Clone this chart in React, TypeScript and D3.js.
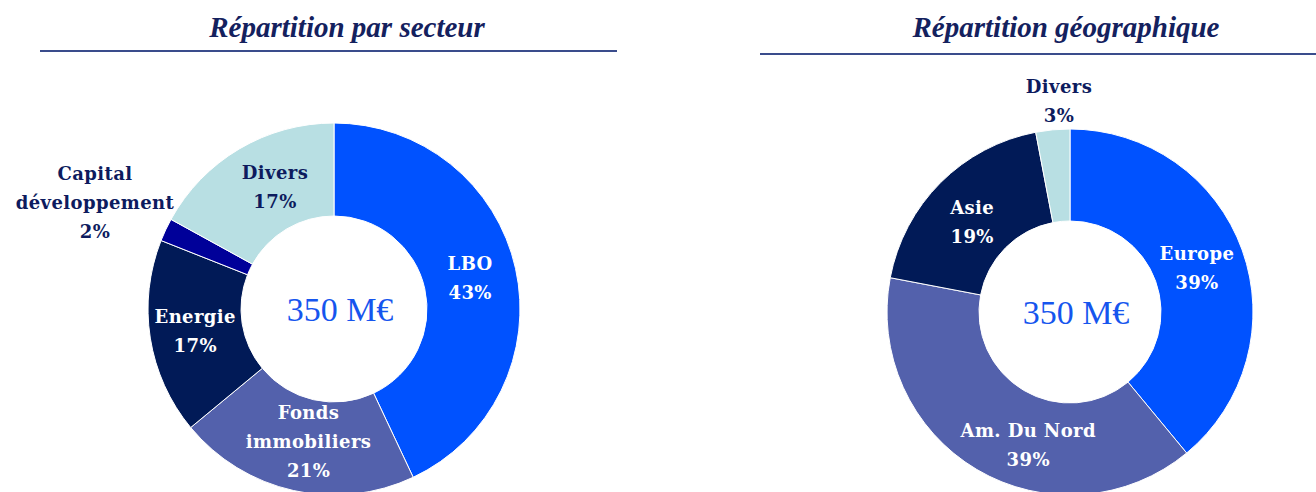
import React from "react";
import * as d3 from "d3";

const sectorCategories = ["LBO", "Fonds immobiliers", "Energie", "Capital développement", "Divers"];
const sectorValues = [43, 21, 17, 2, 17];
const sectorLabelLines = [["LBO", "43%"], ["Fonds", "immobiliers", "21%"], ["Energie", "17%"], ["Capital", "développement", "2%"], ["Divers", "17%"]];

const geoCategories = ["Europe", "Am. Du Nord", "Asie", "Divers"];
const geoValues = [39, 39, 19, 3];
const geoLabelLines = [["Europe", "39%"], ["Am. Du Nord", "39%"], ["Asie", "19%"], ["Divers", "3%"]];

const totalLabel = "350 M€";
const titles = ["Répartition par secteur", "Répartition géographique"];

const sectorColors = ["#0052FF", "#5361AC", "#011A57", "#000099", "#B8DFE3"];
const geoColors = ["#0052FF", "#5361AC", "#011A57", "#B8DFE3"];

type LabelStyle = { dx: number; dy: number; fill: string; outside?: boolean };

const sectorLabelStyle: LabelStyle[] = [
  { dx: 0, dy: 0, fill: "#fff" },
  { dx: 5, dy: -3, fill: "#fff" },
  { dx: -1, dy: 0, fill: "#fff" },
  { dx: 0, dy: 0, fill: "#0D1B5E", outside: true },
  { dx: 12, dy: -2, fill: "#0D1B5E" },
];
const geoLabelStyle: LabelStyle[] = [
  { dx: -2, dy: 3, fill: "#fff" },
  { dx: 28, dy: 15, fill: "#fff" },
  { dx: -1, dy: 7, fill: "#fff" },
  { dx: 0, dy: 0, fill: "#0D1B5E", outside: true },
];

function Donut({ cx, cy, rOuter, rInner, values, colors, lines, styles, outsidePos, fontSize }: any) {
  const pie = d3.pie<number>().sort(null).value((d) => d)(values);
  const arc = d3.arc<any>().innerRadius(rInner).outerRadius(rOuter);
  const lineH = 29;
  return (
    <g transform={`translate(${cx},${cy})`}>
      {pie.map((p, i) => (
        <path key={i} d={arc(p) || ""} fill={colors[i]} stroke="#fff" strokeWidth={1} />
      ))}
      {pie.map((p, i) => {
        const st: LabelStyle = styles[i];
        const ls: string[] = lines[i];
        let x: number, y: number;
        if (st.outside) {
          x = outsidePos[0] - cx;
          y = outsidePos[1] - cy;
        } else {
          const c = arc.centroid(p);
          x = c[0] + st.dx;
          y = c[1] + st.dy;
        }
        const y0 = y - ((ls.length - 1) * lineH) / 2;
        return (
          <text key={"t" + i} x={x} y={y0} textAnchor="middle" fill={st.fill}
            fontFamily="'DejaVu Serif', serif" fontWeight="bold" fontSize={fontSize} letterSpacing={0.4}>
            {ls.map((l, j) => (
              <tspan key={j} x={x} y={y0 + j * lineH} dy="0.35em">{l}</tspan>
            ))}
          </text>
        );
      })}
      <text x={6} y={0} dy="0.35em" textAnchor="middle" fill="#1555EE"
        fontFamily="'Liberation Serif', serif" fontSize={34}>{totalLabel}</text>
    </g>
  );
}

export default function App() {
  return (
    <svg width={1316} height={492} style={{ position: "absolute", left: 0, top: 0, background: "#fff" }}>
      <text x={347} y={37} textAnchor="middle" fill="#14215E" fontFamily="'Liberation Serif', serif"
        fontWeight="bold" fontStyle="italic" fontSize={29}>{titles[0]}</text>
      <line x1={40} x2={617} y1={51} y2={51} stroke="#3A4C8C" strokeWidth={2} />
      <text x={1066} y={37} textAnchor="middle" fill="#14215E" fontFamily="'Liberation Serif', serif"
        fontWeight="bold" fontStyle="italic" fontSize={29}>{titles[1]}</text>
      <line x1={760} x2={1316} y1={54} y2={54} stroke="#3A4C8C" strokeWidth={2} />
      <Donut cx={334} cy={309} rOuter={186} rInner={93} values={sectorValues} colors={sectorColors}
        lines={sectorLabelLines} styles={sectorLabelStyle} outsidePos={[95, 203]} fontSize={18} />
      <Donut cx={1070} cy={312} rOuter={183} rInner={91} values={geoValues} colors={geoColors}
        lines={geoLabelLines} styles={geoLabelStyle} outsidePos={[1059, 101]} fontSize={18} />
    </svg>
  );
}
